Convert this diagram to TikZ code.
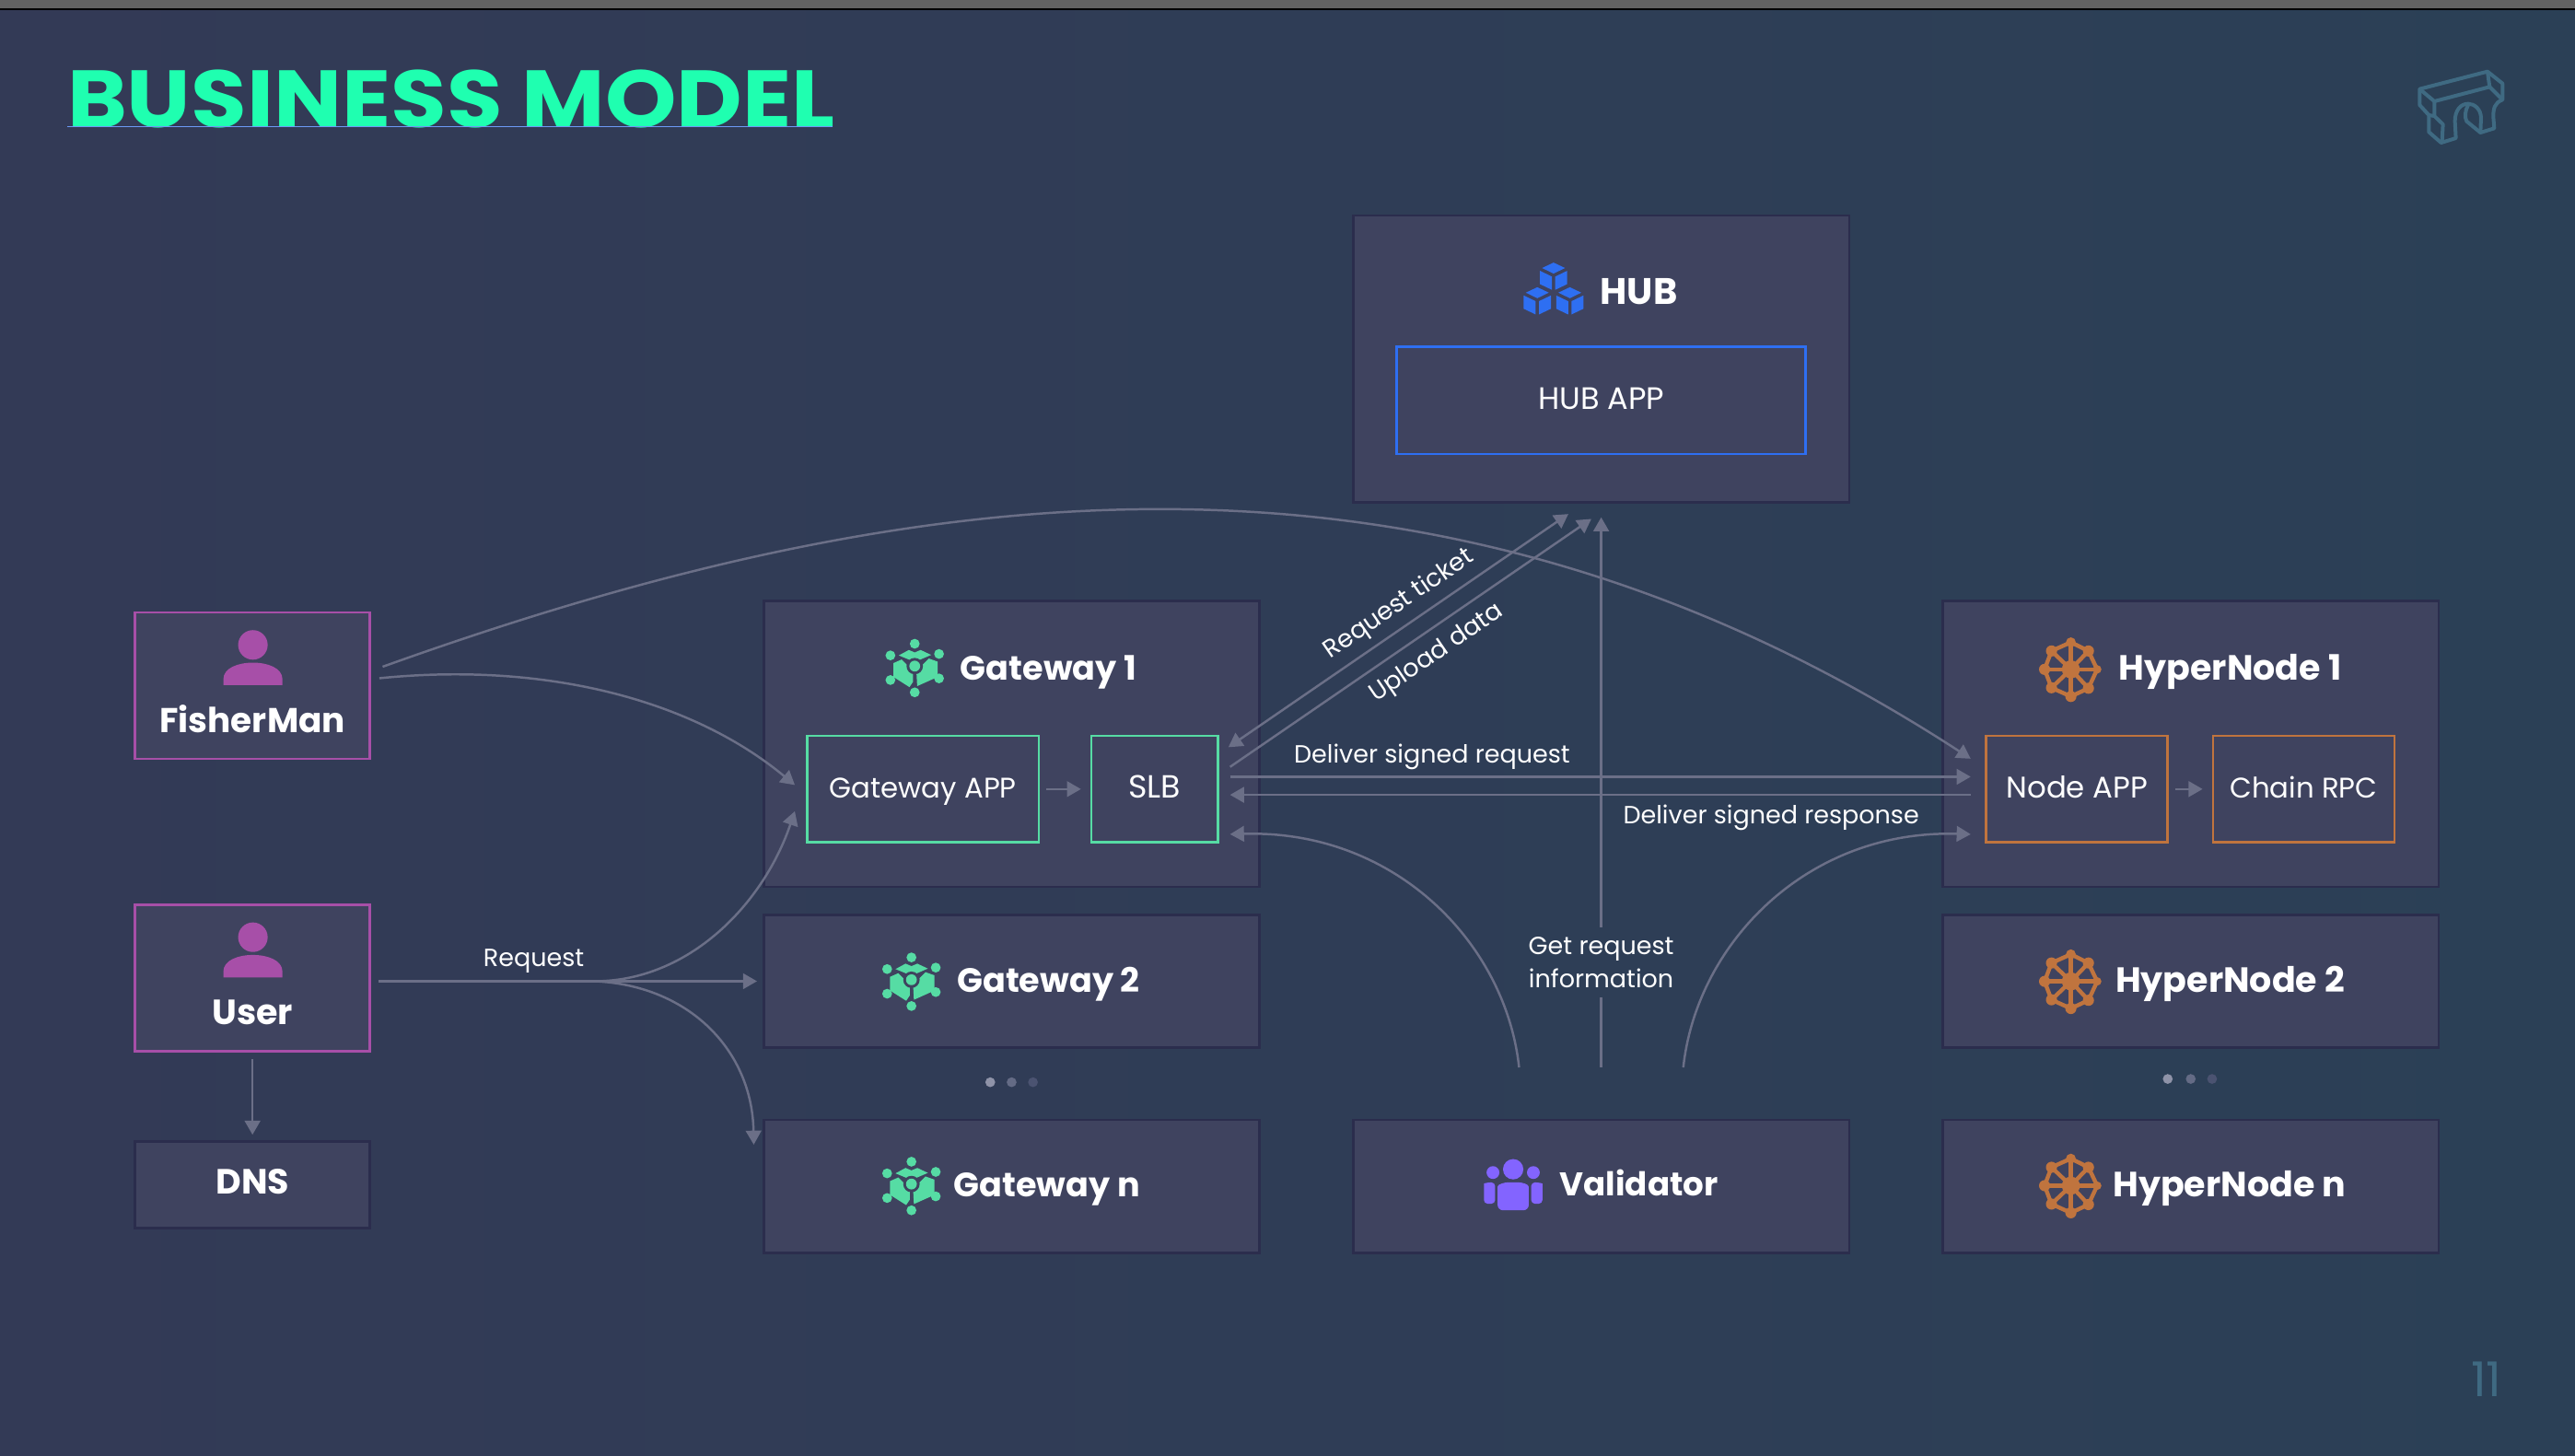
\documentclass[tikz,border=0pt]{standalone}
\usepackage{fontspec}
\setmainfont{Poppins}
\newfontfamily\titlefont[FakeStretch=1.12]{Poppins}
\usepackage{tikz}
\usetikzlibrary{positioning,arrows.meta,calc}

\definecolor{bgleft}{HTML}{333A56}
\definecolor{bgright}{HTML}{2B4056}
\definecolor{panelfill}{HTML}{3F435F}
\definecolor{paneledge}{HTML}{2B2D4D}
\definecolor{flowline}{HTML}{6B6F87}
\definecolor{mint}{HTML}{1FFFB0}
\definecolor{hubblue}{HTML}{2E6FF2}
\definecolor{gwgreen}{HTML}{56DCA4}
\definecolor{hnorange}{HTML}{C0743E}
\definecolor{fishpurple}{HTML}{A74FA8}
\definecolor{valviolet}{HTML}{8364FF}
\definecolor{logoblue}{HTML}{3F6A82}
\definecolor{dotone}{HTML}{8F93A8}
\definecolor{dottwo}{HTML}{646B85}
\definecolor{dotthree}{HTML}{4B5371}
\def\ux{0.4458pt}

\tikzset{
  dims/.style 2 args={minimum width=#1*\ux,minimum height=#2*\ux},
  panel/.style={draw=paneledge,fill=panelfill,line width=0.67pt,inner sep=0pt,outer sep=0pt},
  inbox/.style={draw=#1,line width=0.67pt,text=white,inner sep=0pt,outer sep=0pt,
                text height=6.2pt,text depth=1.2pt,font=\fontsize{7.7}{9}\selectfont},
  sized/.style={font=\fontsize{#1}{9}\selectfont},
  head/.style={text=white,inner sep=0pt,text height=7pt,text depth=2pt,
               font=\bfseries\fontsize{#1}{11}\selectfont},
  head/.default=9.5,
  note/.style={text=white,inner sep=0pt,align=center,font=\fontsize{6.75}{8.9}\selectfont},
  flow/.style={draw=flowline,line width=0.62pt,>={Triangle[length=3.8pt,width=4.2pt]}},
  gwicon/.pic={
    \fill[gwgreen] (-9.7,-7.5) -- (-3.6,-10.8) -- (0,-9.3) -- (3.6,-10.8) -- (10,-7.8) -- (0,-3.5) -- cycle;
    \fill[gwgreen] (-13,-2.8) -- (-13,5.6) -- (-3.2,11.8) -- (-1,8.5) -- (-1,2) -- (-8,-5) -- cycle;
    \fill[gwgreen] (14,-3.7) -- (14,5.6) -- (1.5,11.2) -- (1,2) -- (8.6,-5.6) -- cycle;
    \fill[panelfill] (0,-1) circle (5);
    \fill[gwgreen] (0,-1) circle (3.3);
    \foreach \dotx/\doty in {0/-14.6,14.8/-8.4,14.8/6.5,0/15,-14.8/7.5,-14.8/-7.5}
      \fill[gwgreen] (\dotx,\doty) circle (3);
  },
  hnicon/.pic={
    \draw[hnorange,line width=1.1pt,line join=round] (0,-16.5) -- (10.7,-11.2) -- (16,0) -- (10.7,11.5)
      -- (0,16.5) -- (-11.8,11.2) -- (-16,0) -- (-11.8,-11.2) -- cycle;
    \foreach \spx/\spy/\spr in {0/-16.5/3,10.7/-11.2/3.4,16/0/2.6,10.7/11.5/3.4,0/16.5/3.4,-11.8/11.2/3.4,-16/0/3.4,-11.8/-11.2/3.4} {
      \draw[hnorange,line width=1.1pt] (0,0) -- (\spx,\spy);
      \fill[hnorange] (\spx,\spy) circle (\spr);
    }
    \fill[hnorange] (0,0) circle (5.5);
  },
  usericon/.pic={
    \fill[fishpurple] (0,0) circle (9);
    \fill[fishpurple] (-18,24.5) -- (-18,21) .. controls (-18,14) and (-9,10.8) .. (0,10.8)
      .. controls (9,10.8) and (18,14) .. (18,21) -- (18,24.5) -- cycle;
  },
  cube/.pic={
    \fill[hubblue] (0,-8.3) -- (7,-5) -- (0,-1.6) -- (-7,-5) -- cycle;
    \fill[hubblue] (-8.3,-3.3) -- (-1,0.2) -- (-1,8.3) -- (-8.3,4.8) -- cycle;
    \fill[hubblue] (8.3,-3.3) -- (1,0.2) -- (1,8.3) -- (8.3,4.8) -- cycle;
  },
  valicon/.pic={
    \fill[valviolet] (0,0) circle (6.2);
    \fill[valviolet] (-12.3,2) circle (3.9);
    \fill[valviolet] (12.3,2) circle (3.9);
    \fill[valviolet,rounded corners=1.5] (-9.5,25) -- (-9.5,14) .. controls (-9.5,9) and (-5,8) .. (0,8)
      .. controls (5,8) and (9.5,9) .. (9.5,14) -- (9.5,25) -- cycle;
    \fill[valviolet,rounded corners=1] (-17.8,21) -- (-17.8,11) .. controls (-17.8,8.5) and (-15,8) .. (-11,8)
      .. controls (-11,9) and (-11,11) .. (-11,21) -- cycle;
    \fill[valviolet,rounded corners=1] (17.8,21) -- (17.8,11) .. controls (17.8,8.5) and (15,8) .. (11,8)
      .. controls (11,9) and (11,11) .. (11,21) -- cycle;
  }
}

\begin{document}
\begin{tikzpicture}[x=\ux,y=-\ux]
  \useasboundingbox (0,0) rectangle (1568,886.1);
  \shade[left color=bgleft,right color=bgright] (0,0) rectangle (1568,886.1);
  \fill[black!61] (0,0) rectangle (1568,5.2);
  \fill[black] (0,5.2) rectangle (1568,6);

  \node[anchor=west,text=mint,inner sep=0pt,font=\titlefont\bfseries\fontsize{22}{26}\selectfont] (title) at (40.5,60) {BUSINESS MODEL};
  \draw[hubblue!70!white,line width=0.3pt] (41,77.3) -- (507,77.3);

  \node[panel,dims={302}{174.5}] (hub)   at (975,218.5) {};
  \node[inbox=hubblue,sized=8.4,dims={249}{65.5}] (hubapp) at (975,243.75) {HUB APP};
  \node[head=10] (hubname) at (998,179.7) {HUB};

  \node[panel,dims={302}{174}] (gw1)   at (616,453) {};
  \node[panel,dims={302}{81}]  (gw2)   at (616,597.5) {};
  \node[panel,dims={302}{81}]  (gwn)   at (616,722.5) {};
  \node[inbox=gwgreen,dims={141}{65}]  (gwapp) at (562,480.5) {Gateway APP};
  \node[inbox=gwgreen,sized=8.7,dims={77}{65}]   (slb)   at (703,480.5) {SLB};
  \node[head=9.15] (gw1name) at (638.5,408.7) {Gateway 1};
  \node[head=9.15] (gw2name) at (638.5,598.9) {Gateway 2};
  \node[head=9.15] (gwnname) at (637.5,722.9) {Gateway n};

  \node[panel,dims={302}{174}] (hn1)   at (1334,453) {};
  \node[panel,dims={302}{81}]  (hn2)   at (1334,597.5) {};
  \node[panel,dims={302}{81}]  (hnn)   at (1334,722.5) {};
  \node[inbox=hnorange,sized=8.1,dims={110.5}{65}] (nodeapp) at (1264.75,480.5) {Node APP};
  \node[inbox=hnorange,dims={110.5}{65}] (chain)   at (1402.75,480.5) {Chain RPC};
  \node[head] (hn1name) at (1358,408.7) {HyperNode 1};
  \node[head] (hn2name) at (1358,598.9) {HyperNode 2};
  \node[head] (hnnname) at (1357.5,722.9) {HyperNode n};

  \node[panel,dims={302}{81}] (val) at (975,722.5) {};
  \node[head=8.9] (valname) at (998,722.5) {Validator};

  \node[panel,draw=fishpurple,dims={143}{89}] (fisher) at (153.75,417.5) {};
  \node[panel,draw=fishpurple,dims={143}{89}] (user)   at (153.75,595.5) {};
  \node[panel,dims={143}{53}]                 (dns)    at (153.75,721.5) {};
  \node[head=9.35] (fishername) at (153.75,440.4) {FisherMan};
  \node[head] (username)   at (153.75,618.3) {User};
  \node[head] (dnsname)    at (153.75,721.7) {DNS};

  \pic at (946,168.2) {cube};
  \pic at (936.1,183.2) {cube};
  \pic at (955.9,183.2) {cube};
  \pic at (557,406.6) {gwicon};
  \pic at (555,597.6) {gwicon};
  \pic at (555,722) {gwicon};
  \pic at (1261,407.6) {hnicon};
  \pic at (1261,597.6) {hnicon};
  \pic at (1261,722) {hnicon};
  \pic at (154,392.7) {usericon};
  \pic at (154,570.7) {usericon};
  \pic at (921.4,712) {valicon};

  \coordinate (fishhigh) at (233,406);
  \coordinate (fishlow)  at (231,413);
  \coordinate (fork)     at (362,597.5);
  \coordinate (gwtop)    at (484,478);
  \coordinate (gwlow)    at (484,494);
  \coordinate (gwnin)    at (459,697);
  \coordinate (hnin)     at (1200,462);
  \coordinate (ticketa)  at (955,313);
  \coordinate (ticketb)  at (748,455);
  \coordinate (uploada)  at (749,467);
  \coordinate (uploadb)  at (969,316);
  \coordinate (hubin)    at (975,315);
  \coordinate (reqa)     at (749,473);
  \coordinate (reqb)     at (1200,473);
  \coordinate (respa)    at (1200,484);
  \coordinate (respb)    at (749,484);
  \coordinate (valleft)  at (925,650);
  \coordinate (valmid)   at (975,650);
  \coordinate (valright) at (1025,650);
  \coordinate (slbin)    at (749,508);
  \coordinate (hnlow)    at (1200,508);

  \node[note] (reqnote)  at (325,585) {Request};
  \node[note,rotate=34.4] (ticketnote) at (852,368) {Request ticket};
  \node[note,rotate=34.4] (uploadnote) at (875,398) {Upload data};
  \node[note] (signreq)  at (872,461) {Deliver signed request};
  \node[note] (signresp) at (1078.5,498) {Deliver signed response};
  \node[note,inner ysep=2.5pt] (infonote) at (975,586) {Get request\\information};

  \draw[flow,->] (fishhigh) .. controls (559,289) and (874,250) .. (hnin);
  \draw[flow,->] (fishlow)  .. controls (330,403) and (420,425) .. (gwtop);
  \draw[flow,->] (fork)     .. controls (420,597.5) and (465,550) .. (gwlow);
  \draw[flow,->] (fork)     .. controls (420,600) and (458,640) .. (gwnin);
  \draw[flow,->,shorten <=2.4pt,shorten >=1.8pt] (user.east |- gw2) -- (gw2.west);
  \draw[flow,->,shorten <=2.2pt,shorten >=1.8pt] (user) -- (dns);
  \draw[flow,->,shorten <=2pt,shorten >=2.8pt] (gwapp) -- (slb);
  \draw[flow,->,shorten <=2pt,shorten >=2.8pt] (nodeapp) -- (chain);
  \draw[flow,<->] (ticketa) -- (ticketb);
  \draw[flow,->]  (uploada) -- (uploadb);
  \draw[flow,->]  (reqa) -- (reqb);
  \draw[flow,->]  (respa) -- (respb);
  \draw[flow,->]  (infonote.north) -- (hubin);
  \draw[flow]     (valmid) -- (infonote.south);
  \draw[flow,->] (valleft)  .. controls (917,575) and (850,505) .. (slbin);
  \draw[flow,->] (valright) .. controls (1033,575) and (1100,505) .. (hnlow);

  \fill[dotone]   (603,659) circle (3);
  \fill[dottwo]   (616,659) circle (3);
  \fill[dotthree] (629,659) circle (3);
  \fill[dotone]   (1320,657) circle (3);
  \fill[dottwo]   (1334,657) circle (3);
  \fill[dotthree] (1347,657) circle (3);

  \begin{scope}[shift={(1401.97,22.43)},scale=0.18693,draw=logoblue,line width=1pt,line join=round]
    \draw (382,170) -- (603,113) -- (652,152) -- (652,205) .. controls (625,215) and (622,235) .. (622,260)
      -- (625,298) -- (580,312) -- (582,265) .. controls (582,235) and (560,218) .. (540,218)
      .. controls (515,218) and (497,240) .. (497,275) -- (500,330) -- (452,345) -- (412,310) -- (412,255)
      -- (382,222) -- cycle;
    \draw (382,170) -- (430,210) -- (610,163) -- (603,113);
    \draw (610,163) -- (652,205);
    \draw (430,210) -- (430,258) -- (458,285) -- (455,340);
    \draw (412,255) -- (430,258);
    \draw (540,222) .. controls (530,240) and (528,262) .. (535,275) -- (580,312);
  \end{scope}
  \node[text=logoblue,inner sep=0pt,font=\fontsize{13}{15}\selectfont] (pagenum) at (1514,840) {11};
\end{tikzpicture}
\end{document}
